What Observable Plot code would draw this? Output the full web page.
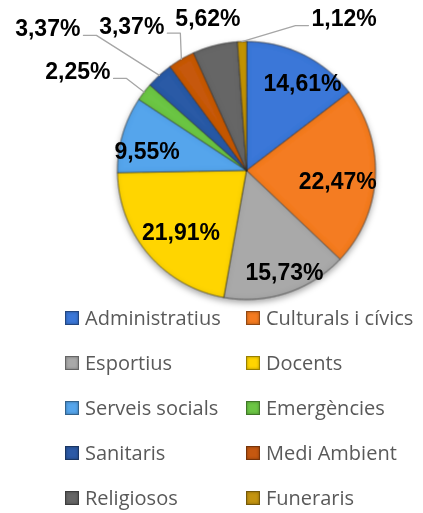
<!DOCTYPE html>
<html><head><meta charset="utf-8">
<script src="https://cdn.jsdelivr.net/npm/d3@7"></script>
<script src="https://cdn.jsdelivr.net/npm/@observablehq/plot@0.6"></script>
<style>
html,body{margin:0;padding:0;background:#fff;}
#chart{width:423px;height:513px;position:relative;overflow:hidden;}
.legend{display:grid;grid-template-columns:181px 181px;margin-left:65px;margin-top:-5px;font-family:"Open Sans",Lato,sans-serif;font-size:20px;color:#595959;}
.legend .item{height:45px;line-height:45px;display:flex;align-items:center;white-space:nowrap;}
.legend .sw{width:14px;height:14px;margin-right:6px;box-sizing:border-box;border:1px solid rgba(0,0,0,0.4);box-shadow:inset 0 0 3px rgba(0,0,0,0.35);}
</style></head><body><div id="chart"></div>
<script>
const categories = ["Administratius","Culturals i cívics","Esportius","Docents","Serveis socials","Emergències","Sanitaris","Medi Ambient","Religiosos","Funeraris"];
const values = [14.61, 22.47, 15.73, 21.91, 9.55, 2.25, 3.37, 3.37, 5.62, 1.12];
const colors = ["#3b77d8","#f47b20","#a9a9a9","#ffd500","#55a5ec","#6cc644","#2c5aa6","#c65810","#666666","#c49410"];

// layout (not data)
const W = 423, H = 300, R = 129, CX = 246, CY = 170;
const insideK = 0.77;
const inside = {
  "Administratius": [12, 2],
  "Culturals i cívics": [-8, 6],
  "Esportius": [7, 8],
  "Docents": [10, -2],
  "Serveis socials": [-4, 9]
};
const outer = {
  "Emergències": {end: [-30.5, -13.7], side: -1},
  "Sanitaris": {end: [-76, -40], side: -1},
  "Medi Ambient": {end: [-14, -26], side: -1},
  "Religiosos": {text: [-7, -27], side: 0},
  "Funeraris": {end: [66.5, -16], side: 1}
};

const fmt = v => v.toFixed(2).replace(".", ",") + "%";
const arcs = d3.pie().sort(null).value(d => d)(values);

const slicePts = [];
arcs.forEach((a, i) => {
  const cat = categories[i];
  slicePts.push({cat, x: 0, y: 0});
  const n = Math.max(4, Math.ceil((a.endAngle - a.startAngle) / 0.02));
  for (let k = 0; k <= n; k++) {
    const t = a.startAngle + (a.endAngle - a.startAngle) * k / n;
    slicePts.push({cat, x: R * Math.sin(t), y: -R * Math.cos(t)});
  }
});

const inLabels = [], leftLabels = [], rightLabels = [], leaders = [];
arcs.forEach((a, i) => {
  const cat = categories[i];
  const m = (a.startAngle + a.endAngle) / 2;
  const ex = R * Math.sin(m), ey = -R * Math.cos(m);
  const o = outer[cat];
  const text = fmt(values[i]);
  if (!o) {
    const nd = inside[cat] || [0, 0];
    inLabels.push({x: ex * insideK + nd[0], y: ey * insideK + nd[1], text});
  } else if (o.side === 0) {
    inLabels.push({x: ex + o.text[0], y: ey + o.text[1], text});
  } else {
    const endX = ex + o.end[0], endY = ey + o.end[1];
    leaders.push({id: cat, x: ex, y: ey});
    leaders.push({id: cat, x: endX - o.side * 13, y: endY});
    leaders.push({id: cat, x: endX, y: endY});
    const lab = {x: endX + o.side * 3, y: endY - 7, text};
    (o.side < 0 ? leftLabels : rightLabels).push(lab);
  }
});

const textOpts = {x: "x", y: "y", text: "text", fontSize: 23, fontWeight: "bold", fill: "#000", fontFamily: "Liberation Sans, Arial, sans-serif"};

const chart = Plot.plot({
  width: W, height: H, margin: 0,
  style: {background: "transparent", overflow: "visible"},
  x: {domain: [-CX, W - CX], range: [0, W], axis: null},
  y: {domain: [-CY, H - CY], range: [0, H], axis: null},
  color: {domain: categories, range: colors},
  marks: [
    Plot.line(slicePts, {x: "x", y: "y", z: "cat", fill: "cat", stroke: "#333", strokeOpacity: 0.75, strokeWidth: 0.8, curve: "linear-closed"}),
    Plot.line(leaders, {x: "x", y: "y", z: "id", stroke: "#a6a6a6", strokeWidth: 1.3}),
    Plot.text(inLabels, {...textOpts, textAnchor: "middle"}),
    Plot.text(leftLabels, {...textOpts, textAnchor: "end"}),
    Plot.text(rightLabels, {...textOpts, textAnchor: "start"})
  ]
});

// bevel-like edge shading filter
const NS = "http://www.w3.org/2000/svg";
const defs = document.createElementNS(NS, "defs");
defs.innerHTML = `<filter id="bevel" x="-5%" y="-5%" width="110%" height="110%">
  <feGaussianBlur in="SourceAlpha" stdDeviation="2.5" result="blur"/>
  <feComposite in="SourceAlpha" in2="blur" operator="out" result="edge"/>
  <feFlood flood-color="#000" flood-opacity="0.28"/>
  <feComposite in2="edge" operator="in" result="shade"/>
  <feMerge><feMergeNode in="SourceGraphic"/><feMergeNode in="shade"/></feMerge>
</filter>`;
chart.prepend(defs);
const g = chart.querySelector('g[aria-label="line"]');
if (g) {
  g.style.filter = "drop-shadow(0px 3px 3px rgba(0,0,0,0.35))";
  g.querySelectorAll("path").forEach(p => p.setAttribute("filter", "url(#bevel)"));
}

const color = chart.scale("color");
const legend = document.createElement("div");
legend.className = "legend";
categories.forEach(c => {
  const it = document.createElement("div");
  it.className = "item";
  const sw = document.createElement("span");
  sw.className = "sw";
  sw.style.background = color.apply(c);
  const tx = document.createElement("span");
  tx.textContent = c;
  it.append(sw, tx);
  legend.append(it);
});
const root = document.getElementById("chart");
root.append(chart, legend);
</script></body></html>
